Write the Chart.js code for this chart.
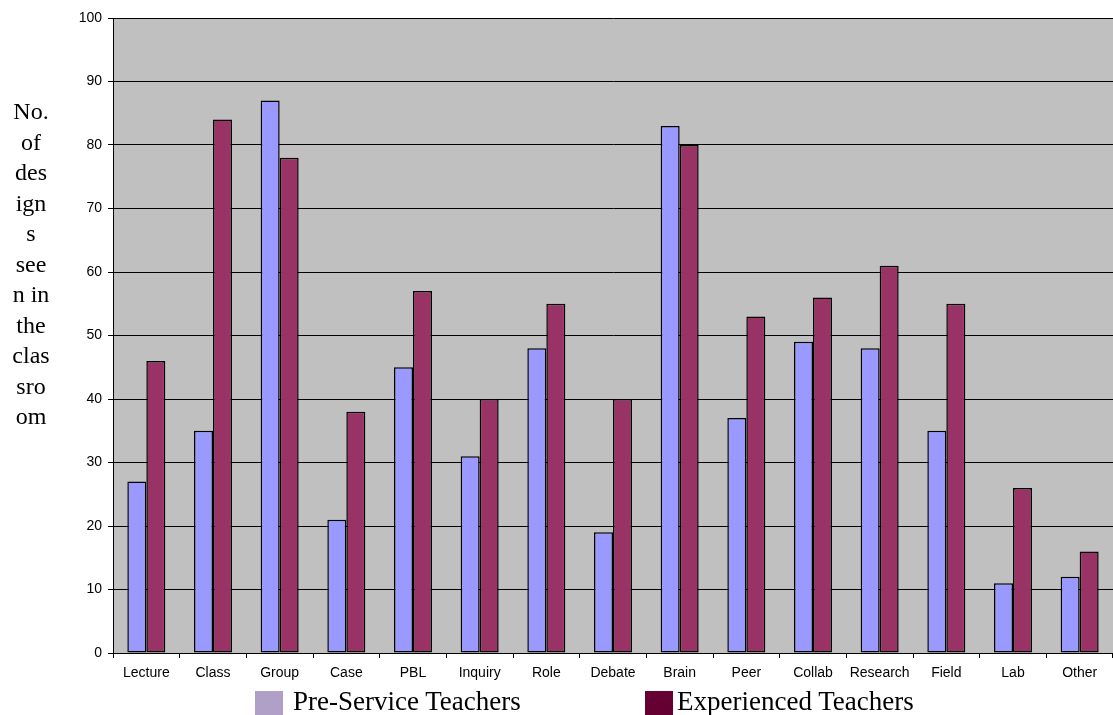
<!DOCTYPE html>
<html>
<head>
<meta charset="utf-8">
<script src="https://cdn.jsdelivr.net/npm/chart.js@4.4.1/dist/chart.umd.min.js"></script>
<style>
  body { margin: 0; background: #fff; }
  #wrap { position: relative; width: 1113px; height: 715px; overflow: hidden; }
  #myChart { position: absolute; left: 0; top: 0; }
  .ytitle { position: absolute; left: 5px; top: 96px; width: 52px; text-align: center;
            font-family: "Liberation Serif", "Times New Roman", serif; font-size: 24px; line-height: 30.5px; color: #000; }
  .legend { position: absolute; top: 688px; font-family: "Liberation Serif", "Times New Roman", serif; font-size: 27px; color: #000; white-space: nowrap; }
  .legend span.box { position: absolute; left: 0; top: 3px; width: 28px; height: 26px; }
  .legend span.txt { position: absolute; top: -2px; line-height: 30px; }
</style>
</head>
<body>
<div id="wrap">
  <canvas id="myChart" width="1113" height="715"></canvas>
  <div class="ytitle">No.<br>of<br>des<br>ign<br>s<br>see<br>n in<br>the<br>clas<br>sro<br>om</div>
  <div class="legend" style="left:255px"><span class="box" style="background:#b0a0c8"></span><span class="txt" style="left:38px">Pre-Service Teachers</span></div>
  <div class="legend" style="left:645px"><span class="box" style="background:#660033"></span><span class="txt" style="left:32px">Experienced Teachers</span></div>
</div>
<script>
// categories and values
const categories = ['Lecture', 'Class', 'Group', 'Case', 'PBL', 'Inquiry', 'Role', 'Debate',
                    'Brain', 'Peer', 'Collab', 'Research', 'Field', 'Lab', 'Other'];
const preService = [27, 35, 87, 21, 45, 31, 48, 19, 83, 37, 49, 48, 35, 11, 12];
const experienced = [46, 84, 78, 38, 57, 40, 55, 40, 80, 53, 56, 61, 55, 26, 16];
const yTicks = [0, 10, 20, 30, 40, 50, 60, 70, 80, 90, 100];

// grey plot background
const plotBackground = {
    id: 'plotBackground',
    beforeDraw(chart) {
        const { ctx, chartArea } = chart;
        ctx.save();
        ctx.fillStyle = '#c0c0c0';
        ctx.fillRect(chartArea.left, chartArea.top, chartArea.right - chartArea.left, chartArea.bottom - chartArea.top);
        ctx.restore();
    }
};

const tickFont = { family: '"Liberation Sans", Arial, sans-serif', size: 14 };

function barSeries(label, data, color) {
    return {
        label: label,
        data: data,
        backgroundColor: color,
        borderColor: '#000',
        borderWidth: 1.5,
        borderSkipped: false,
        inflateAmount: 0,
        categoryPercentage: 0.57,
        barPercentage: 1.0
    };
}

new Chart(document.getElementById('myChart').getContext('2d'), {
    type: 'bar',
    data: {
        labels: categories,
        datasets: [
            barSeries('Pre-Service Teachers', preService, '#9999ff'),
            barSeries('Experienced Teachers', experienced, '#993366')
        ]
    },
    options: {
        responsive: false,
        animation: false,
        layout: { padding: { top: 18, left: 0, right: 0, bottom: 0 } },
        plugins: {
            legend: { display: false },
            tooltip: { enabled: false }
        },
        scales: {
            x: {
                grid: { display: true, drawOnChartArea: false, offset: true, color: '#000', tickLength: 5 },
                border: { color: '#000' },
                ticks: { color: '#000', font: tickFont, padding: 7, maxRotation: 0, autoSkip: false },
                afterFit(scale) { scale.height = 62; }
            },
            y: {
                min: 0,
                max: 100,
                afterBuildTicks(scale) { scale.ticks = yTicks.map(v => ({ value: v })); },
                grid: { color: '#000', tickLength: 5 },
                border: { color: '#000' },
                ticks: { color: '#000', font: tickFont, padding: 6 },
                afterFit(scale) { scale.width = 113; }
            }
        }
    },
    plugins: [plotBackground]
});
</script>
</body>
</html>
